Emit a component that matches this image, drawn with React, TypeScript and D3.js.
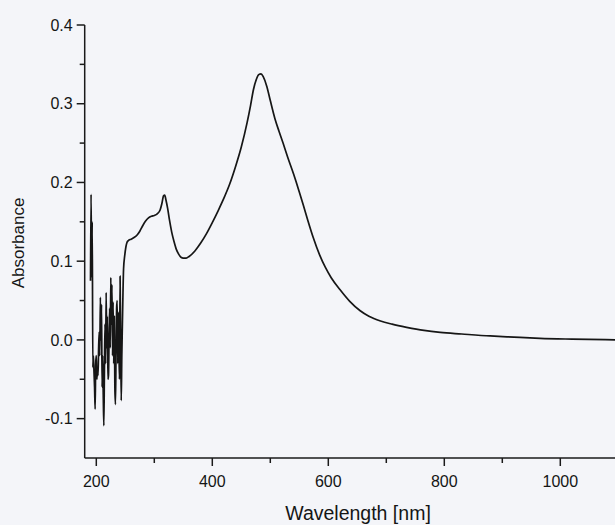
import React from "react";
import * as d3 from "d3";

const wavelength: number[] = [
  190, 191, 192, 193, 194, 195, 196, 197, 198, 199, 200, 201, 202, 203, 204, 205, 206, 207, 208, 209,
  210, 211, 212, 213, 214, 215, 216, 217, 218, 219, 220, 221, 222, 223, 224, 225, 226, 227, 228, 229,
  230, 231, 232, 233, 234, 235, 236, 237, 238, 239, 240, 241, 242, 243, 244, 245, 246, 247, 249, 251,
  253, 255, 260, 265, 270, 275, 280, 285, 290, 295, 300, 305, 310, 313, 316, 318, 320, 323, 326, 330,
  334, 338, 342, 346, 350, 355, 360, 370, 380, 390, 400, 410, 420, 430, 440, 450, 460, 466, 471, 476,
  480, 484, 488, 494, 500, 508, 515, 522, 530, 540, 550, 557, 565, 574, 585, 595, 605, 620, 637, 655,
  670, 690, 710, 735, 765, 793, 830, 879, 920, 965, 1020, 1100,
];

const absorbance: number[] = [
  0.075, 0.185, 0.08, 0.15, -0.035, -0.02, -0.04, -0.06, -0.088, -0.03, -0.02, -0.05, -0.035, -0.045, -0.01, 0.01, -0.02, 0.054, 0.0, 0.045,
  -0.06, -0.02, -0.07, -0.109, -0.04, 0.02, -0.03, 0.06, -0.01, 0.03, -0.05, -0.045, 0.0, 0.04, -0.01, 0.079, 0.02, 0.07, -0.02, 0.048,
  -0.03, 0.03, -0.06, -0.082, -0.02, 0.04, 0.05, -0.03, 0.035, -0.01, -0.05, 0.081, 0.0, -0.077, -0.02, 0.02, 0.06, 0.09, 0.107, 0.118,
  0.124, 0.126, 0.128, 0.13, 0.133, 0.138, 0.145, 0.151, 0.155, 0.157, 0.158, 0.16, 0.165, 0.173, 0.183, 0.184, 0.178, 0.167, 0.153, 0.137,
  0.125, 0.115, 0.109, 0.105, 0.104, 0.104, 0.106, 0.113, 0.123, 0.135, 0.149, 0.164, 0.18, 0.198, 0.22, 0.245, 0.276, 0.298, 0.318, 0.331,
  0.337, 0.338, 0.334, 0.322, 0.304, 0.281, 0.265, 0.25, 0.232, 0.211, 0.188, 0.171, 0.151, 0.13, 0.108, 0.092, 0.079, 0.064, 0.049, 0.037,
  0.030, 0.024, 0.020, 0.016, 0.012, 0.0095, 0.0075, 0.005, 0.0035, 0.002, 0.001, 0.0,
];

const xMajorTicks: number[] = [200, 400, 600, 800, 1000];
const xMinorTicks: number[] = [300, 500, 700, 900];
const yMajorTicks: number[] = [-0.1, 0.0, 0.1, 0.2, 0.3, 0.4];
const yMinorTicks: number[] = [-0.05, 0.05, 0.15, 0.25, 0.35];

const xTitle = "Wavelength [nm]";
const yTitle = "Absorbance";

const W = 615;
const H = 525;

export default function App() {
  const x = d3.scaleLinear().domain([180, 1100]).range([84.7, 618.3]);
  const y = d3.scaleLinear().domain([-0.15, 0.4]).range([458, 25]);

  const pts: [number, number][] = wavelength.map((w, i) => [w, absorbance[i]]);
  const line = d3
    .line<[number, number]>()
    .x((d) => x(d[0]))
    .y((d) => y(d[1]))
    .curve(d3.curveMonotoneX);

  const axisColor = "#1a1a1a";
  const font = "'Liberation Sans', Arial, sans-serif";
  const x0 = x(180);
  const yBase = y(-0.15);

  return (
    <svg
      width={W}
      height={H}
      style={{ position: "absolute", left: 0, top: 0, display: "block" }}
    >
      <rect x={0} y={0} width={W} height={H} fill="#f4f5f9" />
      <path d={line(pts) || ""} fill="none" stroke="#161616" strokeWidth={1.7} strokeLinejoin="round" />
      <line x1={x0} x2={x0} y1={y(0.4)} y2={yBase} stroke={axisColor} strokeWidth={1.5} />
      {yMajorTicks.map((t) => (
        <g key={"ym" + t}>
          <line x1={x0 - 8} x2={x0} y1={y(t)} y2={y(t)} stroke={axisColor} strokeWidth={1.5} />
          <text
            x={x0 - 12}
            y={y(t)}
            dy="0.36em"
            textAnchor="end"
            fontFamily={font}
            fontSize={16}
            fill="#151515"
          >
            {t.toFixed(1)}
          </text>
        </g>
      ))}
      {yMinorTicks.map((t) => (
        <line key={"yn" + t} x1={x0 - 5} x2={x0} y1={y(t)} y2={y(t)} stroke={axisColor} strokeWidth={1.5} />
      ))}
      <line x1={x0} x2={x(1100)} y1={yBase} y2={yBase} stroke={axisColor} strokeWidth={1.5} />
      {xMajorTicks.map((t) => (
        <g key={"xm" + t}>
          <line x1={x(t)} x2={x(t)} y1={yBase} y2={yBase + 8} stroke={axisColor} strokeWidth={1.5} />
          <text
            x={x(t)}
            y={487}
            textAnchor="middle"
            fontFamily={font}
            fontSize={16}
            fill="#151515"
          >
            {t}
          </text>
        </g>
      ))}
      {xMinorTicks.map((t) => (
        <line key={"xn" + t} x1={x(t)} x2={x(t)} y1={yBase} y2={yBase + 5} stroke={axisColor} strokeWidth={1.5} />
      ))}
      <text
        x={358}
        y={520}
        textAnchor="middle"
        fontFamily={font}
        fontSize={19.5}
        fill="#151515"
      >
        {xTitle}
      </text>
      <text
        transform={`translate(24, 243) rotate(-90)`}
        textAnchor="middle"
        fontFamily={font}
        fontSize={17}
        fill="#151515"
      >
        {yTitle}
      </text>
    </svg>
  );
}
